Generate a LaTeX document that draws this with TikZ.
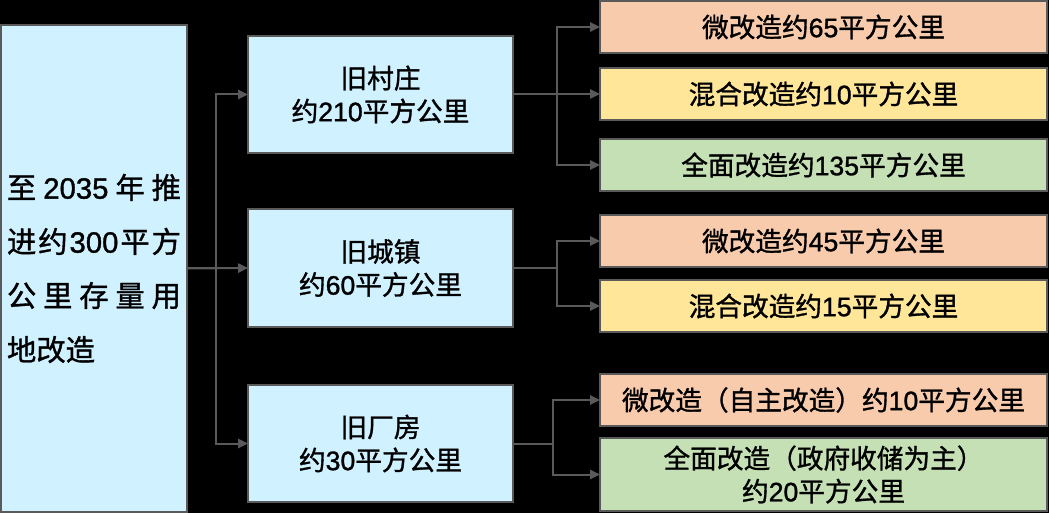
\documentclass[tikz,border=0pt]{standalone}
\usepackage{fontspec}
\setmainfont{Noto Sans CJK SC}[FakeBold=1.2]
\newfontfamily\latfont{Liberation Sans}[FakeBold=1.2]
\newcommand{\dg}[1]{{\latfont #1}}
\usetikzlibrary{arrows.meta}
\definecolor{lblue}{HTML}{D0F1FF}
\definecolor{lorange}{HTML}{F8CBAD}
\definecolor{lyellow}{HTML}{FFE699}
\definecolor{lgreen}{HTML}{C5E0B4}
\definecolor{edgegray}{HTML}{5A5A5A}
\tikzset{
  box/.style={draw=edgegray, line width=1.5pt, inner sep=0pt, outer sep=0pt, align=center,
    font=\fontsize{20}{24.75}\selectfont},
  midbox/.style={box, fill=lblue, minimum width=198.75pt, minimum height=87.75pt},
  rbox/.style={box, minimum width=335.25pt, minimum height=39pt},
  conn/.style={draw=edgegray, line width=1.5pt, -{Triangle[length=7.5pt,width=7pt]}}
}
\begin{document}
\begin{tikzpicture}[x=0.75pt,y=-0.75pt]
\fill[black] (0,0) rectangle (1049,513);
\useasboundingbox (0,0) rectangle (1049,513);
% left box
\node[box, fill=lblue, minimum width=139.5pt, minimum height=365.25pt, text width=130.5pt, align=left,
  font=\fontsize{22}{40.5}\selectfont] (L) at (94,268.5)
  {\makebox[130.5pt][s]{至\hfill{}\dg{2035}\hfill{}年\hfill{}推}\\
   \makebox[130.5pt][s]{进\hfill{}约\hfill{}\dg{300}\hfill{}平\hfill{}方}\\
   \makebox[130.5pt][s]{公\hfill{}里\hfill{}存\hfill{}量\hfill{}用}\\
   地改造};
% middle boxes
\node[midbox] (M1) at (380.5,94.5) {旧村庄\\约\dg{210}平方公里};
\node[midbox] (M2) at (380.5,268) {旧城镇\\约\dg{60}平方公里};
\node[midbox] (M3) at (380.5,443.5) {旧厂房\\约\dg{30}平方公里};
% right boxes
\node[rbox, fill=lorange] (A) at (823.5,27) {微改造约\dg{65}平方公里};
\node[rbox, fill=lyellow] (B) at (823.5,94) {混合改造约\dg{10}平方公里};
\node[rbox, fill=lgreen]  (C) at (823.5,165) {全面改造约\dg{135}平方公里};
\node[rbox, fill=lorange] (D) at (823.5,241) {微改造约\dg{45}平方公里};
\node[rbox, fill=lyellow] (E) at (823.5,306) {混合改造约\dg{15}平方公里};
\node[rbox, fill=lorange] (F) at (823.5,400) {微改造（自主改造）约\dg{10}平方公里};
\node[rbox, fill=lgreen, minimum height=54.75pt] (G) at (823.5,474.5) {全面改造（政府收储为主）\\约\dg{20}平方公里};
% connectors
\draw[conn] (L.east) -- ++(29,0) |- (M1.west);
\draw[conn] (L.east) -- (M2.west);
\draw[conn] (L.east) -- ++(29,0) |- (M3.west);
\draw[conn] (M1.east) -- ++(44,0) |- (A.west);
\draw[conn] (M1.east) -- ++(44,0) |- (B.west);
\draw[conn] (M1.east) -- ++(44,0) |- (C.west);
\draw[conn] (M2.east) -- ++(44,0) |- (D.west);
\draw[conn] (M2.east) -- ++(44,0) |- (E.west);
\draw[conn] (M3.east) -- ++(40,0) |- (F.west);
\draw[conn] (M3.east) -- ++(40,0) |- (G.west);
\end{tikzpicture}
\end{document}
